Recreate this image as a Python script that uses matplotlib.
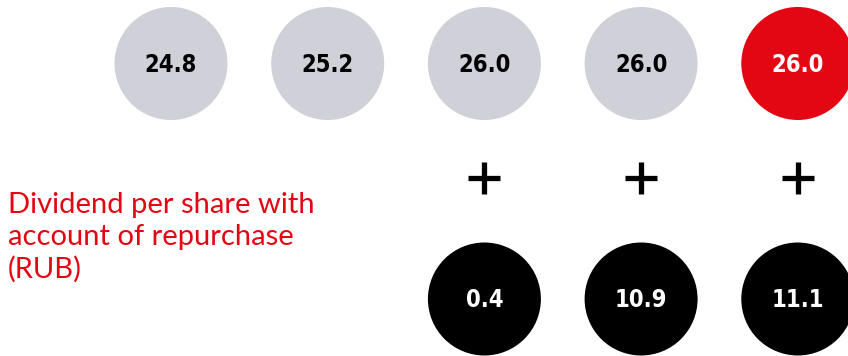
import matplotlib
matplotlib.use('Agg')
import matplotlib.pyplot as plt
from matplotlib.patches import Circle

# values
years = ['2014', '2015', '2016', '2017', '2018']
dividend = [24.8, 25.2, 26.0, 26.0, 26.0]
repurchase = [None, None, 0.4, 10.9, 11.1]
label_lines = ['Dividend per share with', 'account of repurchase', '(RUB)']

GREY = '#cfd0d8'
RED = '#e30613'

fig = plt.figure(figsize=(8.48, 3.56), dpi=100)
ax = fig.add_axes([0, 0, 1, 1])
ax.set_xlim(0, 848)
ax.set_ylim(356, 0)
ax.set_aspect('equal')
ax.axis('off')

x0, step, r = 171, 156.7, 56.5
num_font = dict(family='DejaVu Sans', stretch='condensed', weight='bold', fontsize=17)

for i, v in enumerate(dividend):
    cx = x0 + i * step
    last = i == len(dividend) - 1
    ax.add_patch(Circle((cx, 63.5), r, color=RED if last else GREY, lw=0))
    ax.text(cx, 65, f'{v:.1f}', ha='center', va='center',
            color='white' if last else 'black', **num_font)

for i, v in enumerate(repurchase):
    if v is None:
        continue
    cx = x0 + i * step
    ax.plot(cx, 178, marker='+', markersize=23, markeredgewidth=3.8, color='black')
    ax.add_patch(Circle((cx, 299), r, color='black', lw=0))
    ax.text(cx, 300, f'{v:.1f}', ha='center', va='center', color='white', **num_font)

for j, line in enumerate(label_lines):
    ax.text(8, 213 + j * 32.5, line, ha='left', va='baseline', color=RED,
            family=['Lato', 'DejaVu Sans'], fontsize=21)

fig.savefig('out.png', dpi=100)
